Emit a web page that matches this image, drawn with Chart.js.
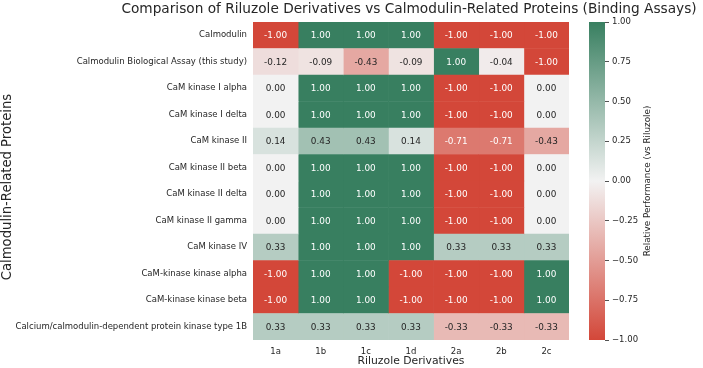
<!DOCTYPE html>
<html>
<head>
<meta charset="utf-8">
<script src="https://cdn.jsdelivr.net/npm/chart.js@4"></script>
<style>
  body { margin: 0; background: #fff; }
  #wrap { position: relative; width: 703px; height: 368px; }
  #heat { position: absolute; left: 0; top: 0; }
  #cbar { position: absolute; left: 589px; top: 0; }
</style>
</head>
<body>
<div id="wrap">
  <canvas id="heat" width="703" height="368"></canvas>
  <canvas id="cbar" width="114" height="368"></canvas>
</div>
<script>
// Colonnes (dérivés) et lignes (protéines)
const derivatives = ["1a", "1b", "1c", "1d", "2a", "2b", "2c"];
const proteins = [
  "Calmodulin",
  "Calmodulin Biological Assay (this study)",
  "CaM kinase I alpha",
  "CaM kinase I delta",
  "CaM kinase II",
  "CaM kinase II beta",
  "CaM kinase II delta",
  "CaM kinase II gamma",
  "CaM kinase IV",
  "CaM-kinase kinase alpha",
  "CaM-kinase kinase beta",
  "Calcium/calmodulin-dependent protein kinase type 1B",
];
// une ligne par protéine, une valeur par dérivé
const scores = [
  [-1.0, 1.0, 1.0, 1.0, -1.0, -1.0, -1.0],
  [-0.12, -0.09, -0.43, -0.09, 1.0, -0.04, -1.0],
  [0.0, 1.0, 1.0, 1.0, -1.0, -1.0, 0.0],
  [0.0, 1.0, 1.0, 1.0, -1.0, -1.0, 0.0],
  [0.14, 0.43, 0.43, 0.14, -0.71, -0.71, -0.43],
  [0.0, 1.0, 1.0, 1.0, -1.0, -1.0, 0.0],
  [0.0, 1.0, 1.0, 1.0, -1.0, -1.0, 0.0],
  [0.0, 1.0, 1.0, 1.0, -1.0, -1.0, 0.0],
  [0.33, 1.0, 1.0, 1.0, 0.33, 0.33, 0.33],
  [-1.0, 1.0, 1.0, -1.0, -1.0, -1.0, 1.0],
  [-1.0, 1.0, 1.0, -1.0, -1.0, -1.0, 1.0],
  [0.33, 0.33, 0.33, 0.33, -0.33, -0.33, -0.33],
];
const colorbarRange = [-1, 1];

const FONT = "'DejaVu Sans', sans-serif";
const TEXT = "#262626";
const NEG = [211, 71, 57];
const MID = [242, 242, 242];
const POS = [56, 127, 96];

// Couleur divergente rouge -> gris clair -> vert
function cellRgb(v) {
  const t = Math.max(-1, Math.min(1, v));
  const end = t < 0 ? NEG : POS;
  const a = Math.abs(t);
  return MID.map((m, k) => Math.round(m + a * (end[k] - m)));
}
function cellColor(v) {
  const c = cellRgb(v);
  return `rgb(${c[0]}, ${c[1]}, ${c[2]})`;
}
function textColor(v) {
  const lum = cellRgb(v).map((c) => {
    c /= 255;
    return c <= 0.03928 ? c / 12.92 : Math.pow((c + 0.055) / 1.055, 2.4);
  });
  const L = 0.2126 * lum[0] + 0.7152 * lum[1] + 0.0722 * lum[2];
  return L < 0.408 ? "#ffffff" : TEXT;
}

// Valeurs écrites dans chaque case
const cellLabels = {
  id: "cellLabels",
  afterDatasetsDraw(chart) {
    const c = chart.ctx;
    c.save();
    c.font = "8.9px " + FONT;
    c.textAlign = "center";
    c.textBaseline = "middle";
    chart.data.datasets.forEach((ds, j) => {
      chart.getDatasetMeta(j).data.forEach((bar, i) => {
        const v = scores[i][j];
        c.fillStyle = textColor(v);
        c.fillText(v.toFixed(2), (bar.x + bar.base) / 2, bar.y + 0.5);
      });
    });
    c.restore();
  },
};

// Titre centré au-dessus de la zone du graphique + titre vertical à gauche
const heatTitles = {
  id: "heatTitles",
  afterDraw(chart) {
    const c = chart.ctx;
    const a = chart.chartArea;
    c.save();
    c.fillStyle = TEXT;
    c.textAlign = "center";
    c.textBaseline = "middle";
    c.font = "13.7px " + FONT;
    c.fillText(
      "Comparison of Riluzole Derivatives vs Calmodulin-Related Proteins (Binding Assays)",
      (a.left + a.right) / 2 - 2,
      9
    );
    c.translate(8, 187);
    c.rotate(-Math.PI / 2);
    c.font = "13.2px " + FONT;
    c.fillText("Calmodulin-Related Proteins", 0, 0);
    c.restore();
  },
};

function loadHeatmap() {
  const ctx = document.getElementById("heat").getContext("2d");
  new Chart(ctx, {
    type: "bar",
    data: {
      labels: proteins,
      datasets: derivatives.map((d, j) => ({
        label: d,
        data: proteins.map(() => [j, j + 1]),
        backgroundColor: (c) => cellColor(scores[c.dataIndex][j]),
        borderWidth: 0,
        barPercentage: 1,
        categoryPercentage: 1,
        grouped: false,
      })),
    },
    options: {
      indexAxis: "y",
      responsive: false,
      animation: false,
      layout: { padding: { top: 22, right: 134, left: 0, bottom: 0 } },
      plugins: { legend: { display: false }, tooltip: { enabled: false } },
      scales: {
        y: {
          type: "category",
          grid: { display: false, drawTicks: false, tickLength: 0 },
          border: { display: false },
          ticks: { font: { family: FONT, size: 8.5 }, color: TEXT, padding: 6 },
          afterFit: (scale) => { scale.width = 253; },
        },
        x: {
          type: "linear",
          min: 0,
          max: derivatives.length,
          grid: { display: false, drawTicks: false, tickLength: 0 },
          border: { display: false },
          afterBuildTicks: (scale) => {
            scale.ticks = derivatives.map((d, i) => ({ value: i + 0.5 }));
          },
          ticks: {
            autoSkip: false,
            maxRotation: 0,
            font: { family: FONT, size: 8.5 },
            color: TEXT,
            padding: 7,
            callback: (v) => derivatives[Math.floor(v)],
          },
          title: {
            display: true,
            text: "Riluzole Derivatives",
            font: { family: FONT, size: 10.8 },
            color: TEXT,
            padding: 0,
          },
          afterFit: (scale) => { scale.height = 28; },
        },
      },
    },
    plugins: [cellLabels, heatTitles],
  });
}

// Libellé vertical de la barre de couleur
const cbarLabel = {
  id: "cbarLabel",
  afterDraw(chart) {
    const c = chart.ctx;
    const a = chart.chartArea;
    c.save();
    c.translate(59, (a.top + a.bottom) / 2);
    c.rotate(-Math.PI / 2);
    c.font = "8.8px " + FONT;
    c.fillStyle = TEXT;
    c.textAlign = "center";
    c.textBaseline = "middle";
    c.fillText("Relative Performance (vs Riluzole)", 0, 0);
    c.restore();
  },
};

function loadColorbar() {
  const ctx = document.getElementById("cbar").getContext("2d");
  new Chart(ctx, {
    type: "bar",
    data: {
      labels: [""],
      datasets: [
        {
          data: [colorbarRange],
          backgroundColor: (c) => {
            const a = c.chart.chartArea;
            if (!a) return cellColor(0);
            const g = c.chart.ctx.createLinearGradient(0, a.bottom, 0, a.top);
            g.addColorStop(0, cellColor(-1));
            g.addColorStop(0.5, cellColor(0));
            g.addColorStop(1, cellColor(1));
            return g;
          },
          borderWidth: 0,
          barPercentage: 1,
          categoryPercentage: 1,
        },
      ],
    },
    options: {
      responsive: false,
      animation: false,
      layout: { padding: { top: 22, bottom: 28, left: 0, right: 0 } },
      plugins: { legend: { display: false }, tooltip: { enabled: false } },
      scales: {
        x: { display: false },
        y: {
          position: "right",
          min: colorbarRange[0],
          max: colorbarRange[1],
          border: { display: false },
          grid: {
            drawOnChartArea: false,
            drawTicks: true,
            tickLength: 4,
            tickWidth: 0.8,
            color: TEXT,
          },
          ticks: {
            stepSize: 0.25,
            font: { family: FONT, size: 8.5 },
            color: TEXT,
            padding: 3,
            callback: (v) => (v < 0 ? "\u2212" : "") + Math.abs(v).toFixed(2),
          },
          afterFit: (scale) => { scale.width = 98; },
        },
      },
    },
    plugins: [cbarLabel],
  });
}

document.addEventListener("DOMContentLoaded", () => {
  loadHeatmap();
  loadColorbar();
});
</script>
</body>
</html>
